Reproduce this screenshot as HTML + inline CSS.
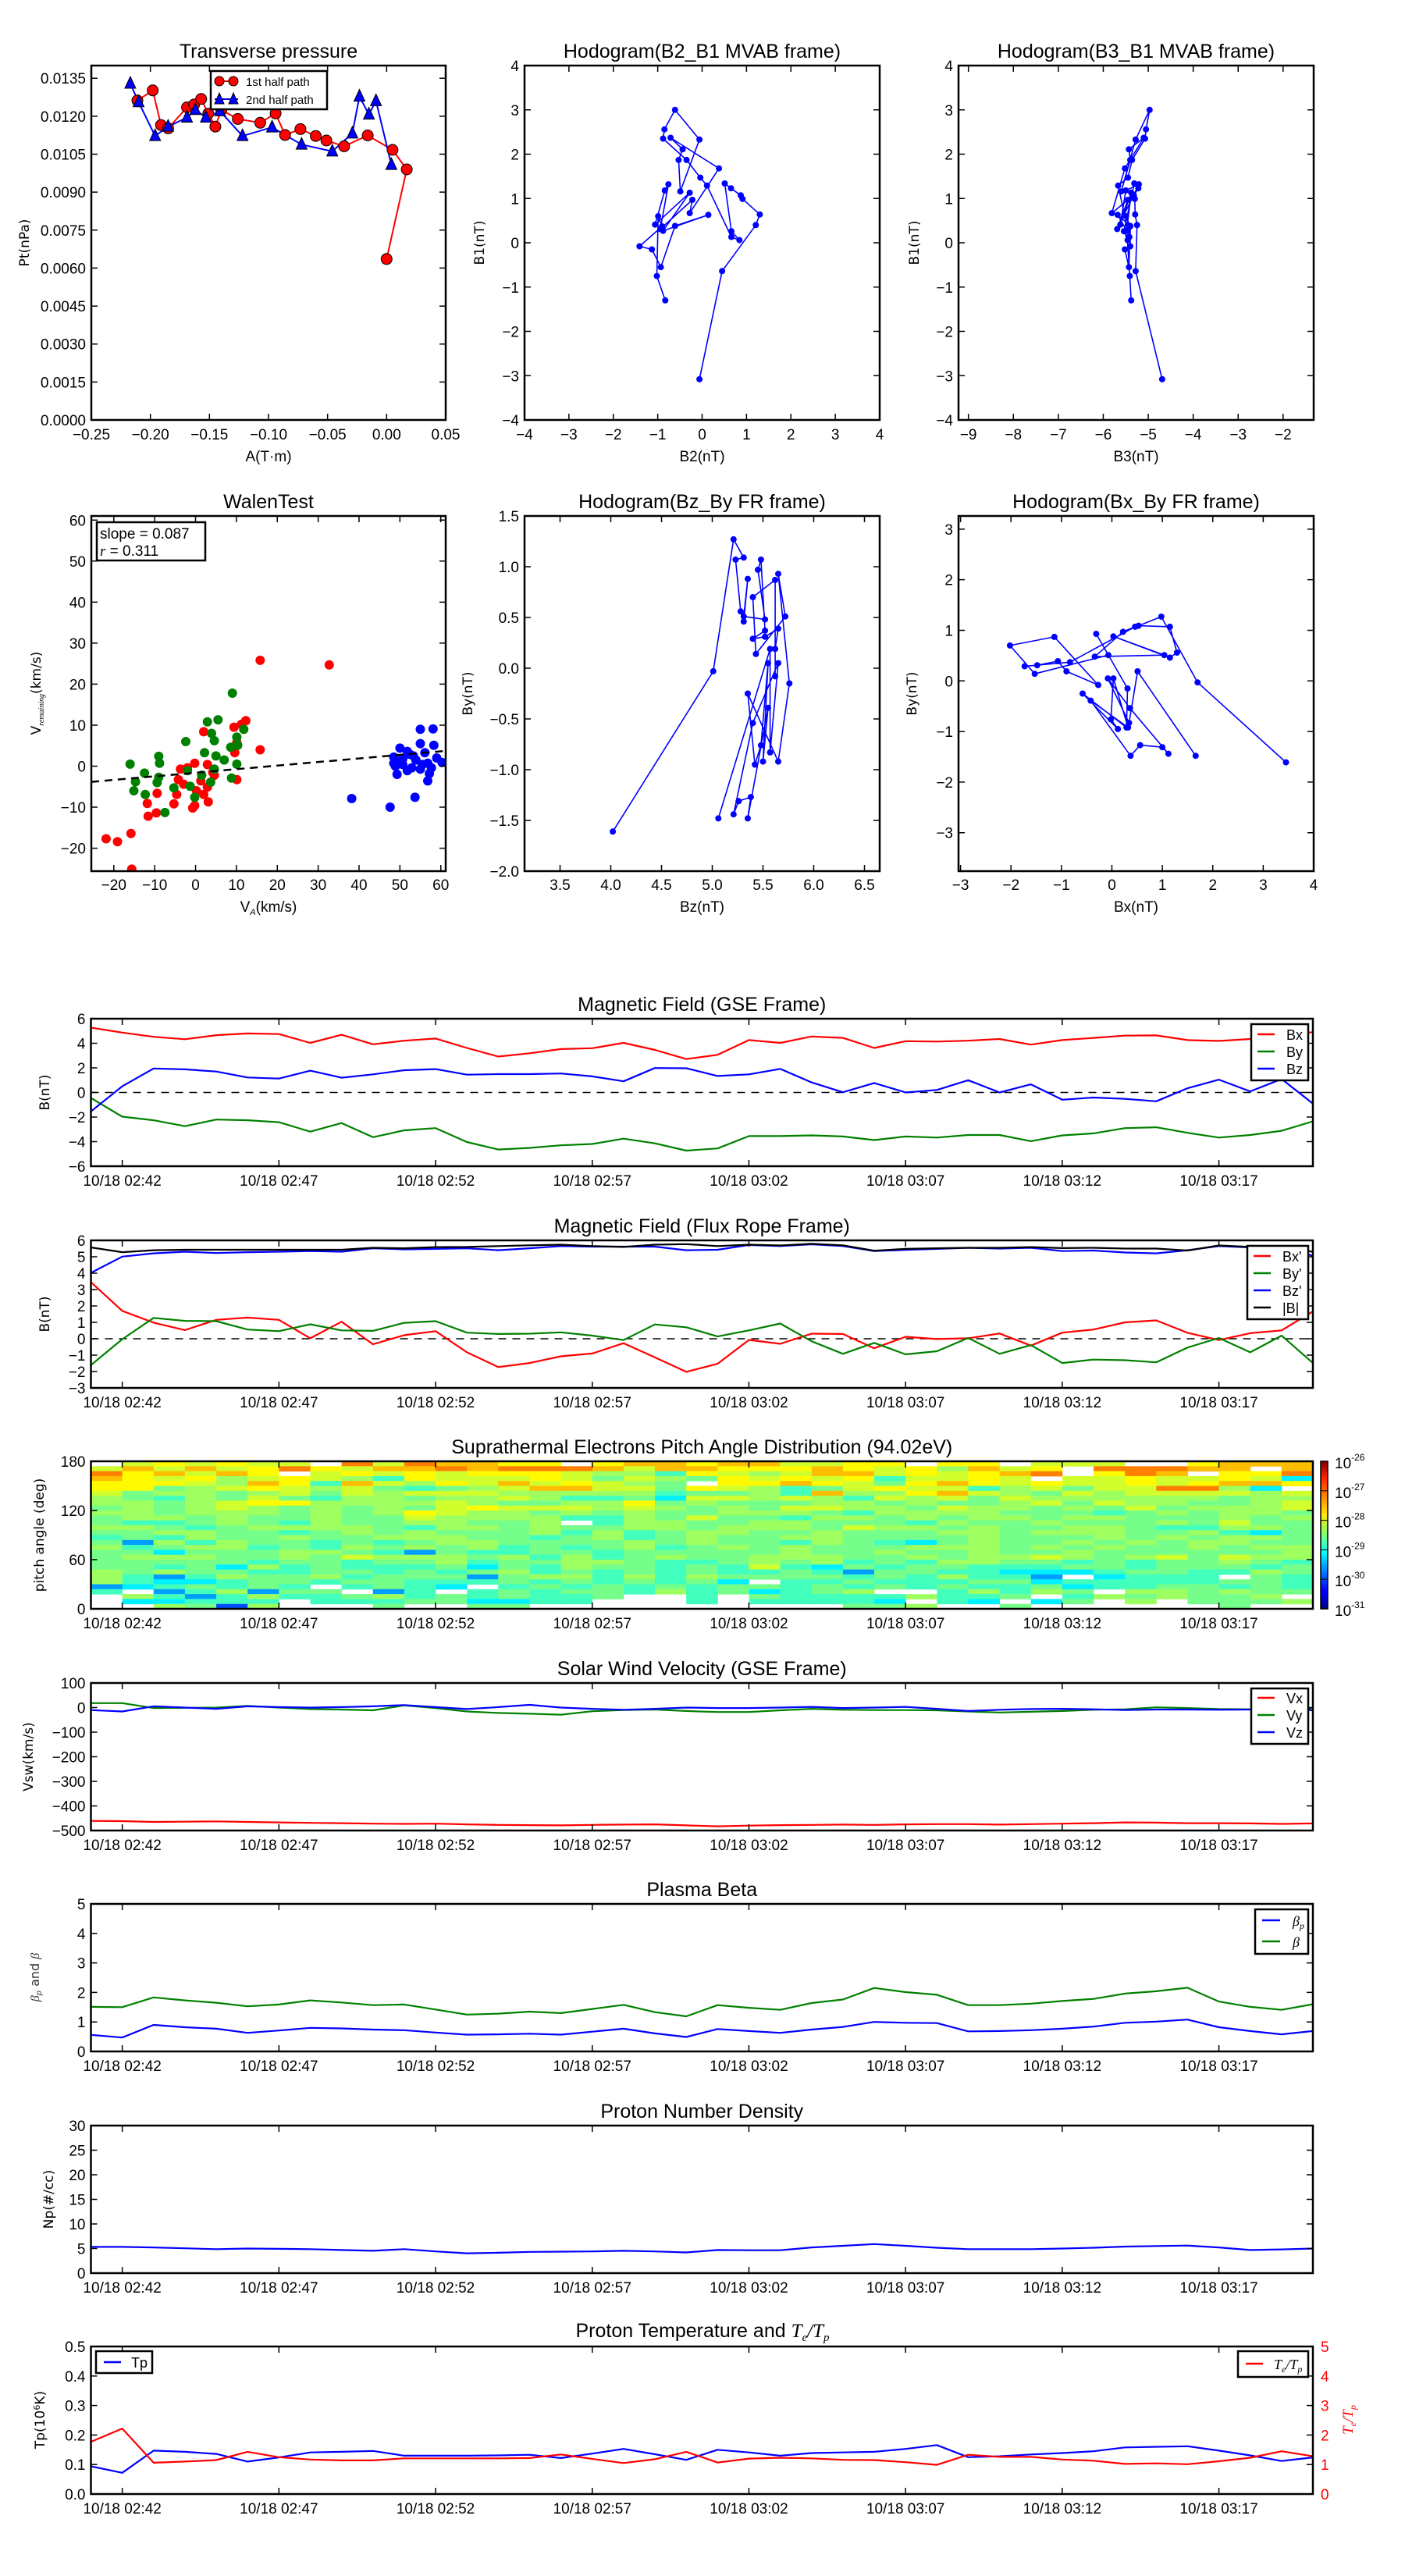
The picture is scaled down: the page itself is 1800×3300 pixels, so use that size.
<!DOCTYPE html>
<html><head><meta charset="utf-8"><title>Flux rope analysis</title>
<style>
html,body{margin:0;padding:0;background:#fff;}
svg{display:block;}
</style></head>
<body>
<svg id="fig" xmlns="http://www.w3.org/2000/svg" width="1800" height="3300" viewBox="0 0 1800 3300">
<rect x="0" y="0" width="1800" height="3300" fill="#fff"/>
<defs>
<linearGradient id="jetgrad" x1="0" y1="1" x2="0" y2="0">
<stop offset="0" stop-color="#00007f"/><stop offset="0.11" stop-color="#0000ff"/><stop offset="0.125" stop-color="#0000ff"/>
<stop offset="0.34" stop-color="#00d4ff"/><stop offset="0.375" stop-color="#00ffff"/><stop offset="0.5" stop-color="#7dff7a"/>
<stop offset="0.64" stop-color="#ffe600"/><stop offset="0.75" stop-color="#ff9100"/><stop offset="0.89" stop-color="#ff1e00"/>
<stop offset="1" stop-color="#7f0000"/></linearGradient>
</defs>
</svg>
<script>
// ---------------- DATA ----------------
const tpRedA=[-0.211,-0.198,-0.191,-0.185,-0.169,-0.163,-0.157,-0.151,-0.145,-0.140,-0.126,-0.107,-0.094,-0.086,-0.073,-0.060,-0.051,-0.036,-0.016,0.005,0.017,0.000];
const tpRedP=[0.01262,0.01302,0.01165,0.01152,0.01235,0.01246,0.01268,0.01210,0.01159,0.01225,0.01189,0.01174,0.01211,0.01126,0.01149,0.01122,0.01104,0.01081,0.01124,0.01067,0.00990,0.00636];
const tpBlueA=[-0.217,-0.210,-0.196,-0.185,-0.169,-0.162,-0.153,-0.141,-0.122,-0.097,-0.072,-0.046,-0.029,-0.023,-0.015,-0.009,0.004];
const tpBlueP=[0.01329,0.01256,0.01122,0.01159,0.01195,0.01225,0.01195,0.01220,0.01122,0.01156,0.01088,0.01061,0.01132,0.01278,0.01207,0.01260,0.01008];
const mvB2=[-0.06,0.45,1.21,1.30,0.91,0.87,0.65,0.51,0.66,0.84,0.66,0.11,-0.04,-0.35,-0.88,-0.85,-0.61,-0.06,-0.49,-0.53,-0.44,-0.71,0.38,-0.28,-0.22,-0.94,-0.76,-0.84,-1.06,-0.28,-0.88,0.14,-0.61,-0.93,-1.13,-1.41,-0.90,-0.99,-1.02,-0.83];
const mvB1=[-3.08,-0.64,0.40,0.64,0.99,1.07,1.23,1.34,0.26,0.06,0.13,1.29,1.47,1.87,2.35,2.56,3.00,2.33,1.16,1.87,2.11,2.37,1.68,0.67,0.97,0.31,1.32,1.18,0.41,1.13,0.27,0.63,0.38,-0.55,-0.15,-0.08,0.37,0.60,-0.75,-1.30];
const mvB3=[-4.69,-5.28,-5.25,-5.29,-5.30,-5.32,-5.22,-5.31,-5.54,-5.46,-5.42,-5.67,-5.45,-5.36,-5.07,-5.05,-4.97,-5.28,-5.60,-5.40,-5.43,-5.10,-5.52,-5.81,-5.45,-5.69,-5.21,-5.50,-5.62,-5.38,-5.48,-5.68,-5.40,-5.43,-5.52,-5.40,-5.40,-5.50,-5.41,-5.38];
const walRedX=[15.8,32.7,12.3,9.4,2.0,11.2,-0.2,-2.0,10.1,2.9,4.6,4.2,-3.7,1.3,-2.9,2.9,2.0,0.2,-4.6,-5.3,-0.7,-0.2,3.1,-9.4,-11.8,-9.6,-11.6,-15.8,-19.1,-21.9,-15.6,10.1,15.8,9.6,-4.2];
const walRedY=[25.8,24.7,11.1,9.5,8.4,10.2,0.7,-0.4,5.8,0.4,-2.2,-1.5,-0.7,-3.6,-4.4,-5.1,-6.9,-6.0,-6.9,-9.2,-10.2,-9.6,-8.7,-6.6,-9.1,-11.4,-12.2,-16.4,-18.4,-17.7,-25.1,-3.3,4.0,3.3,-3.3];
const walGreenX=[9.0,5.5,2.9,3.9,4.6,-2.4,11.8,10.1,10.3,8.6,2.2,5.0,7.0,10.1,-9.0,-8.8,-16.0,-12.5,-14.7,-9.0,-9.4,-15.1,-12.3,-5.3,-1.3,-0.2,-7.5,3.7,-2.0,1.5,8.8,4.6];
const walGreenY=[17.8,11.3,10.8,8.0,6.2,6.0,9.0,7.1,5.1,4.6,3.3,2.5,1.5,0.5,2.4,0.7,0.5,-1.7,-3.8,-2.7,-4.0,-6.0,-6.9,-5.3,-4.9,-7.6,-11.3,-3.9,-1.1,-2.2,-2.9,-0.7];
const walBlueX=[55.0,58.1,50.0,55.0,58.3,51.8,53.3,48.5,49.6,50.7,53.9,55.5,56.8,59.0,48.9,51.8,55.0,57.7,49.3,52.9,57.2,56.8,60.3,38.2,47.6,53.7,52.4,56.1,48.5,50.7];
const walBlueY=[9.0,9.1,4.4,5.5,5.1,3.6,2.5,2.2,1.1,0.4,1.5,0.4,0.7,2.0,0.0,-1.1,-0.7,-0.4,-2.0,-0.4,-1.8,-3.6,0.9,-7.9,-10.0,-7.6,2.9,3.3,0.7,1.8];
const walSlope=[0.087];
const walIntercept=[-1.6];
const tickMinutes=[1,6,11,16,21,26,31,36];
const tickLabels=["10/18 02:42","10/18 02:47","10/18 02:52","10/18 02:57","10/18 03:02","10/18 03:07","10/18 03:12","10/18 03:17"];
const bx=[5.27,4.87,4.53,4.33,4.66,4.80,4.75,4.03,4.69,3.92,4.21,4.39,3.62,2.92,3.19,3.53,3.60,4.03,3.46,2.72,3.06,4.26,4.03,4.55,4.44,3.62,4.17,4.14,4.21,4.35,3.89,4.26,4.44,4.62,4.64,4.26,4.19,4.35,4.57,4.91];
const by=[-0.45,-1.97,-2.26,-2.74,-2.20,-2.26,-2.42,-3.19,-2.49,-3.64,-3.08,-2.90,-4.03,-4.64,-4.51,-4.30,-4.19,-3.76,-4.14,-4.73,-4.55,-3.55,-3.55,-3.49,-3.58,-3.87,-3.58,-3.67,-3.46,-3.46,-3.96,-3.49,-3.33,-2.90,-2.83,-3.28,-3.67,-3.46,-3.12,-2.35];
const bz=[-1.54,0.50,1.95,1.88,1.70,1.22,1.13,1.77,1.20,1.47,1.81,1.90,1.45,1.49,1.49,1.54,1.31,0.91,1.99,1.97,1.34,1.47,1.92,0.82,0.02,0.77,0.00,0.20,1.00,0.00,0.66,-0.59,-0.41,-0.52,-0.72,0.34,1.04,0.09,1.09,-0.90];
const bxp=[3.45,1.70,0.98,0.53,1.15,1.29,1.15,0.03,1.04,-0.34,0.22,0.46,-0.83,-1.73,-1.48,-1.07,-0.90,-0.27,-1.14,-2.02,-1.53,-0.07,-0.31,0.31,0.29,-0.58,0.12,-0.02,0.03,0.32,-0.42,0.37,0.56,1.00,1.12,0.36,-0.08,0.34,0.51,1.66];
const byp=[-1.61,-0.03,1.27,1.09,1.07,0.56,0.46,0.88,0.51,0.48,0.97,1.07,0.37,0.29,0.31,0.39,0.19,-0.08,0.87,0.70,0.14,0.51,0.93,-0.15,-0.92,-0.25,-0.95,-0.76,0.05,-0.92,-0.39,-1.48,-1.27,-1.31,-1.44,-0.54,0.05,-0.83,0.19,-1.48];
const bzp=[4.02,5.01,5.21,5.31,5.23,5.28,5.31,5.35,5.31,5.52,5.45,5.48,5.52,5.40,5.52,5.65,5.62,5.62,5.62,5.40,5.43,5.72,5.65,5.76,5.65,5.35,5.42,5.48,5.55,5.50,5.55,5.35,5.38,5.26,5.21,5.40,5.65,5.57,5.57,5.06];
const btot=[5.57,5.28,5.40,5.43,5.43,5.43,5.43,5.43,5.43,5.55,5.52,5.59,5.60,5.65,5.70,5.74,5.65,5.60,5.74,5.77,5.65,5.74,5.69,5.79,5.70,5.37,5.48,5.52,5.55,5.55,5.59,5.53,5.55,5.50,5.50,5.38,5.69,5.60,5.64,5.30];
const padLevels={a:-27.25,b:-27.55,c:-27.85,d:-28.1,e:-28.35,f:-28.55,g:-28.8,h:-29.2,i:-29.6,j:-30.0};
const padRows=[
".dcdcdd.adabbcc.cbbcbbddcc.cc.ddd..cbbb",
"dbdbdcacdbbabaaabdbbcccbcdcebdc.aaabb.bd",
"acbdbc.dcdcdcccdeegcdedbbdcdcba.cab.ccab",
"bcdcedcdegcdddcdfdefcdcdcgddcd.ddcddcdhe",
"cccdebcgbdecdbdcdef.ccbcdfcbcdcddcdcbbcd",
"ccfedcdedfgfedbbddfcdegfdcddgedfddaaeh.d",
"dfeefedfdedddeeeeegffegbeecbdefdeddddedf",
"efgefdfgeefeedeggfhddedegdedfdeeeeeefeee",
"eefedcceeeedeffeecfefffeefeffedfdeeffedf",
"fefedefefefdcdddedefefddeefdeefefdfeeedef",
"eefeeefefecdeefefeffeeefgeeeefffgfefeefef",
"feefeffeffdeeeeggefdffgeefefeefeefffefee",
"fggfefgeffeeffe.geeffeefffgeffefffefdffe",
"eefgfeeeefgeefeffeefeeefdeefeffeefggeeff",
"ffeeffgfefefffegegfeeffefffeefeeeffeghfe",
"gfgeffeffeeeffgfegfeffeeffffefffefefeeff",
"fiegeffgfgfeeffffefeffgefghfeffefefeeffg",
"egfeegfgefefegfgfegfefefffeeefefeffefeeff",
"ffhfffeefgifggffgfffffeffeffeffeffffffefg",
"feeeffefdeeefegegfeffeeeffefeedefedfdeeef",
"fffffgffgffegffeefggfefegfgeeffgfgffefgf",
"ffgfhegfgggfhfgeffgfgdghfgffgggffgfffgff",
"efeffggffgfgfegfgfgfggfgiffgghhhgffggeff",
"egigeffegfffifeegegeffffgfgeggi.hggg.fgf",
"eghhgffgffgggfgfgfgfh.ggfgggffhgggggffgg",
"ihgfgfg.gfgh.gfgfgfgffgfgfgfggfhggffgfgf",
"g.igeiff.ig.gfgffgegfhgfe..gegef.eefeffe",
".egigeggfegfgfggf..g.fggggeggf.gefeffe.g",
".hhggg.gggffhhgg...g.ggggh.gh.hf.e.fffe.",
"..efje...f..ff..........ffe..f......f..."];
const cbTickExp=[-26,-27,-28,-29,-30,-31];
const vx=[-461,-462,-465,-464,-463,-465,-467,-469,-470,-472,-473,-472,-475,-477,-478,-479,-477,-476,-475,-479,-483,-480,-478,-477,-476,-477,-475,-474,-474,-476,-474,-472,-470,-467,-468,-470,-470,-471,-473,-471];
const vy=[18,18,-2,-1,0,7,0,-6,-8,-11,9,-2,-16,-22,-25,-29,-15,-10,-8,-14,-18,-18,-11,-5,-9,-10,-10,-11,-16,-20,-17,-14,-9,-7,1,-2,-6,-7,-10,-2];
const vz=[-10,-16,5,0,-5,5,2,0,2,5,10,2,-6,2,11,0,-5,-9,-5,0,-2,-2,0,3,-2,0,3,-5,-14,-9,-6,-5,-7,-10,-8,-8,-9,-8,-2,-11];
const betaP=[0.56,0.47,0.90,0.82,0.77,0.63,0.71,0.80,0.78,0.74,0.72,0.64,0.57,0.58,0.60,0.57,0.67,0.77,0.61,0.49,0.76,0.69,0.63,0.74,0.83,1.00,0.97,0.96,0.68,0.69,0.72,0.77,0.84,0.97,1.01,1.08,0.82,0.69,0.58,0.69];
const betaT=[1.51,1.50,1.83,1.73,1.65,1.53,1.59,1.73,1.66,1.57,1.59,1.42,1.25,1.28,1.35,1.30,1.44,1.58,1.33,1.19,1.57,1.48,1.41,1.64,1.76,2.15,2.01,1.92,1.57,1.57,1.62,1.71,1.78,1.96,2.04,2.16,1.69,1.51,1.41,1.60];
const np=[5.33,5.33,5.22,5.05,4.88,5.00,4.93,4.88,4.70,4.54,4.88,4.42,4.03,4.14,4.31,4.37,4.42,4.54,4.42,4.20,4.70,4.65,4.65,5.22,5.56,5.90,5.56,5.16,4.88,4.88,4.88,5.00,5.16,5.39,5.50,5.60,5.22,4.70,4.82,5.00];
const tp=[0.094,0.072,0.147,0.143,0.136,0.110,0.124,0.141,0.143,0.146,0.130,0.130,0.130,0.131,0.133,0.122,0.137,0.153,0.135,0.116,0.150,0.141,0.130,0.139,0.141,0.143,0.153,0.166,0.125,0.128,0.134,0.139,0.145,0.158,0.160,0.162,0.147,0.131,0.112,0.124];
const teTp=[1.77,2.22,1.06,1.10,1.15,1.43,1.25,1.17,1.14,1.14,1.21,1.21,1.21,1.21,1.22,1.34,1.19,1.05,1.18,1.43,1.07,1.20,1.23,1.21,1.16,1.15,1.08,0.99,1.33,1.26,1.26,1.17,1.13,1.02,1.04,1.01,1.11,1.23,1.45,1.28];

// ---------------- DRAWING ----------------
const NS='http://www.w3.org/2000/svg';
const svg=document.getElementById('fig');
const NARROW='"Liberation Sans Narrow","Liberation Sans",sans-serif';
const WIDE='"DejaVu Sans","Liberation Sans",sans-serif';
function mk(tag,attrs,parent){const e=document.createElementNS(NS,tag);for(const k in attrs)e.setAttribute(k,attrs[k]);(parent||svg).appendChild(e);return e;}
function lin(d0,d1,r0,r1){return v=>r0+(v-d0)*(r1-r0)/(d1-d0);}
function fmt(v,dec){const s=Math.abs(v).toFixed(dec);return (v<0?'\u2212':'')+s;}
function txt(parent,x,y,s,attrs,name){
  const t=mk('text',Object.assign({x:x,y:y},attrs),parent);
  t.textContent=s;
  
  
  return t;
}
function group(name){
  const g=mk('g',{});
  
  
  return g;
}
function axes(c){
  const g=c.g;
  (c.xt||[]).forEach((v,i)=>{
    const x=c.sx(v);
    const tk=mk('path',{d:`M${x},${c.B}V${c.B-8}M${x},${c.T}V${c.T+8}`,stroke:'#000','stroke-width':1.5,fill:'none'},g);
    
    
    txt(g,x,c.xlY||c.B+25,c.xl[i],{'font-family':NARROW,'font-size':19,'text-anchor':'middle'},'x-tick-label');
  });
  (c.yt||[]).forEach((v,i)=>{
    const y=c.sy(v);
    const d=c.noRightTicks?`M${c.L},${y}H${c.L+8}`:`M${c.L},${y}H${c.L+8}M${c.R},${y}H${c.R-8}`;
    const tk=mk('path',{d:d,stroke:'#000','stroke-width':1.5,fill:'none'},g);
    
    
    txt(g,c.L-7,y+7,c.yl[i],{'font-family':NARROW,'font-size':19,'text-anchor':'end'},'y-tick-label');
  });
  if(c.title){
    txt(g,(c.L+c.R)/2,c.titleY,c.title,{'font-family':NARROW,'font-size':25,'text-anchor':'middle'},'chart-title');
  }
  if(c.xlabel) txt(g,(c.L+c.R)/2,c.xlabelY,c.xlabel,{'font-family':NARROW,'font-size':19,'text-anchor':'middle'},'x-axis-title');
  if(c.ylabel){
    const cy=(c.T+c.B)/2;
    txt(g,c.ylabelX,cy,c.ylabel,{'font-family':WIDE,'font-size':c.ylSize||17,'text-anchor':'middle',transform:`rotate(-90 ${c.ylabelX} ${cy})`},'y-axis-title');
  }
}
function frame(g,L,T,R,B){
  const r=mk('rect',{x:L,y:T,width:R-L,height:B-T,fill:'none',stroke:'#000','stroke-width':2.5},g);
  
  
}
function polyline(g,xs,ys,sx,sy,color,w,name,dash){
  const d=xs.map((x,i)=>(i?'L':'M')+sx(x).toFixed(1)+','+sy(ys[i]).toFixed(1)).join('');
  const p=mk('path',{d:d,fill:'none',stroke:color,'stroke-width':w,'stroke-linejoin':'round'},g);
  if(dash)p.setAttribute('stroke-dasharray',dash);
  
  
  return p;
}
function dots(g,xs,ys,sx,sy,color,r,name,stroke){
  xs.forEach((x,i)=>{
    const c=mk('ellipse',{cx:sx(x).toFixed(1),cy:sy(ys[i]).toFixed(1),rx:r,ry:r,fill:color},g);
    if(stroke){c.setAttribute('stroke',stroke);c.setAttribute('stroke-width',1);}
    
    
  });
}
function range(a,b,s){const o=[];for(let v=a;v<=b+1e-9;v+=s)o.push(+v.toFixed(6));return o;}
function legend(g,x,y,w,h,entries,textX,lineX0,lineX1){
  const box=mk('rect',{x:x,y:y,width:w,height:h,fill:'#fff',stroke:'#000','stroke-width':2.5},g);
  
  
  entries.forEach(e=>{
    const l=mk('path',{d:`M${lineX0},${e.y}H${lineX1}`,stroke:e.color,'stroke-width':2.5},g);
    
    
    const t=txt(g,textX,e.y+7,'',{'font-family':e.serif?'"Liberation Serif",serif':NARROW,'font-size':18,'font-style':e.serif?'italic':'normal'},'legend-entry');
    t.textContent=e.label;
    if(e.sub){
      const s=mk('tspan',{'font-size':12,dy:4},t);
      s.textContent=e.sub;
      
      
    }
    if(e.rest){
      const r=mk('tspan',{dy:-4},t);
      r.textContent=e.rest;
      
      
      const s2=mk('tspan',{'font-size':12,dy:4},t);
      s2.textContent=e.sub2;
      
      
    }
  });
}

// ======= Row 1 =======
(function(){
  const g=group('transverse-pressure-chart');
  const L=117,T=84,R=571,B=538;
  const sx=lin(-0.25,0.05,L,R), sy=lin(0,0.014,B,T);
  const xt=range(-0.25,0.05,0.05), yt=range(0,0.0135,0.0015);
  polyline(g,tpRedA,tpRedP,sx,sy,'#ff0000',2,'first-half-line');
  polyline(g,tpBlueA,tpBlueP,sx,sy,'#0000ff',2,'second-half-line');
  dots(g,tpRedA,tpRedP,sx,sy,'#ff0000',7,'first-half-point','#000');
  tpBlueA.forEach((a,i)=>{
    const x=sx(a),y=sy(tpBlueP[i]);
    const t=mk('path',{d:`M${x},${y-9}L${x+7},${y+6}L${x-7},${y+6}Z`,fill:'#0000ff',stroke:'#000','stroke-width':1},g);
    
    
  });
  frame(g,L,T,R,B);
  axes({g,L,T,R,B,sx,sy,xt,xl:xt.map(v=>fmt(v,2)),yt,yl:yt.map(v=>v.toFixed(4)),title:'Transverse pressure',titleY:74,xlabel:'A(T\u00b7m)',xlabelY:591,ylabel:'Pt(nPa)',ylabelX:37,xlY:563});
  const lg=mk('rect',{x:270,y:91,width:149,height:49,fill:'#fff',stroke:'#000','stroke-width':2.5},g);
  
  
  const l1=mk('path',{d:'M275,104H305',stroke:'#ff0000','stroke-width':2},g);
  
  
  dots(g,[0],[0],v=>281,v=>104,'#ff0000',6,'legend-marker','#000');
  dots(g,[0],[0],v=>299,v=>104,'#ff0000',6,'legend-marker','#000');
  txt(g,315,110,'1st half path',{'font-family':NARROW,'font-size':15},'legend-entry');
  const l2=mk('path',{d:'M275,127H305',stroke:'#0000ff','stroke-width':2},g);
  
  
  [281,299].forEach(x=>{
    const t=mk('path',{d:`M${x},119L${x+6},133L${x-6},133Z`,fill:'#0000ff',stroke:'#000','stroke-width':1},g);
    
    
  });
  txt(g,315,133,'2nd half path',{'font-family':NARROW,'font-size':15},'legend-entry');
})();

function hodo(name,L,T,R,B,xr,yr,xs,ys,xt,xdec,yt,ydec,title,titleY,xlabel,xlabelY,ylabel,ylabelX,xlY){
  const g=group(name);
  const sx=lin(xr[0],xr[1],L,R), sy=lin(yr[0],yr[1],B,T);
  polyline(g,xs,ys,sx,sy,'#0000ff',1.6,'hodogram-path');
  dots(g,xs,ys,sx,sy,'#0000ff',4,'hodogram-point');
  frame(g,L,T,R,B);
  axes({g,L,T,R,B,sx,sy,xt,xl:xt.map(v=>fmt(v,xdec)),yt,yl:yt.map(v=>fmt(v,ydec)),title,titleY,xlabel,xlabelY,ylabel,ylabelX,xlY});
  return g;
}
hodo('hodogram-b2-b1',672,84,1127,538,[-4,4],[-4,4],mvB2,mvB1,range(-4,4,1),0,range(-4,4,1),0,'Hodogram(B2_B1 MVAB frame)',74,'B2(nT)',591,'B1(nT)',620,563);
hodo('hodogram-b3-b1',1228,84,1683,538,[-9.22,-1.32],[-4,4],mvB3,mvB1,range(-9,-2,1),0,range(-4,4,1),0,'Hodogram(B3_B1 MVAB frame)',74,'B3(nT)',591,'B1(nT)',1177,563);

// ======= Row 2 =======
(function(){
  const g=group('walen-test-chart');
  const L=117,T=661,R=571,B=1116;
  const sx=lin(-25.5,61.2,L,R), sy=lin(-25.6,61,B,T);
  const clip=mk('clipPath',{id:'walclip'},g);
  const cr=mk('rect',{x:L,y:T,width:R-L,height:B-T},clip);
  
  
  const pg=mk('g',{'clip-path':'url(#walclip)'},g);
  
  
  dots(pg,walRedX,walRedY,sx,sy,'#ff0000',6,'walen-point-red');
  dots(pg,walGreenX,walGreenY,sx,sy,'#008000',6,'walen-point-green');
  dots(pg,walBlueX,walBlueY,sx,sy,'#0000ff',6,'walen-point-blue');
  const fx=[-25.5,61.2];
  polyline(pg,fx,fx.map(x=>walSlope[0]*x+walIntercept[0]),sx,sy,'#000',2.5,'fit-line','10,7');
  frame(g,L,T,R,B);
  const xt=range(-20,60,10), yt=range(-20,60,10);
  axes({g,L,T,R,B,sx,sy,xt,xl:xt.map(v=>fmt(v,0)),yt,yl:yt.map(v=>fmt(v,0)),title:'WalenTest',titleY:651,xlY:1140});
  const xl=txt(g,344,1168,'V',{'font-family':NARROW,'font-size':19,'text-anchor':'middle'},'x-axis-title');
  const s1=mk('tspan',{'font-size':11,dy:4,'font-style':'italic'},xl); s1.textContent='A';
  
  
  const s2=mk('tspan',{dy:-4},xl); s2.textContent='(km/s)';
  
  
  const yl=txt(g,52,888,'V',{'font-family':WIDE,'font-size':17,'text-anchor':'middle',transform:'rotate(-90 52 888)'},'y-axis-title');
  const s3=mk('tspan',{'font-size':10,dy:4,'font-style':'italic','font-family':'"Liberation Serif",serif'},yl); s3.textContent='remaining';
  
  
  const s4=mk('tspan',{dy:-4},yl); s4.textContent='(km/s)';
  
  
  const tb=mk('rect',{x:124,y:669,width:139,height:49,fill:'#fff',stroke:'#000','stroke-width':2.5},g);
  
  
  txt(g,128,690,'slope = '+walSlope[0].toFixed(3),{'font-family':NARROW,'font-size':19},'slope-text');
  const rt=txt(g,128,712,'',{'font-family':NARROW,'font-size':19},'correlation-text');
  const ri=mk('tspan',{'font-style':'italic','font-family':'"Liberation Serif",serif'},rt); ri.textContent='r';
  
  
  const rv=mk('tspan',{},rt); rv.textContent=' = 0.311';
  
  
})();
hodo('hodogram-bz-by',672,661,1127,1116,[3.15,6.65],[-2.0,1.5],bzp,byp,range(3.5,6.5,0.5),1,range(-2,1.5,0.5),1,'Hodogram(Bz_By FR frame)',651,'Bz(nT)',1168,'By(nT)',605,1140);
hodo('hodogram-bx-by',1228,661,1683,1116,[-3.04,4.0],[-3.76,3.26],bxp,byp,range(-3,4,1),0,range(-3,3,1),0,'Hodogram(Bx_By FR frame)',651,'Bx(nT)',1168,'By(nT)',1174,1140);

// ======= Time series =======
const TL=116.5,TR=1682;
const tsx=lin(0,39,TL,TR);
const mins=bx.map((v,i)=>i);
function tsPanel(name,T,B,ymin,ymax,yt,ydec,title,ylabel,ylabelX){
  const g=group(name);
  const sy=lin(ymin,ymax,B,T);
  return {g,sy,T,B,finish:(extra)=>{
    frame(g,TL,T,TR,B);
    axes(Object.assign({g,L:TL,T,R:TR,B,sx:tsx,sy,xt:tickMinutes,xl:tickLabels,yt,yl:yt.map(v=>fmt(v,ydec)),title,titleY:T-10,ylabel,ylabelX},extra||{}));
  }};
}
(function(){
  const p=tsPanel('magnetic-field-gse-chart',1305,1494,-6,6,range(-6,6,2),0,'Magnetic Field (GSE Frame)','B(nT)',63);
  polyline(p.g,[0,39],[0,0],tsx,p.sy,'#000',1.5,'zero-line','10,8');
  polyline(p.g,mins,bx,tsx,p.sy,'#ff0000',2.2,'series-bx');
  polyline(p.g,mins,by,tsx,p.sy,'#008000',2.2,'series-by');
  polyline(p.g,mins,bz,tsx,p.sy,'#0000ff',2.2,'series-bz');
  p.finish();
  legend(p.g,1603,1312,73,72,[{label:'Bx',color:'#ff0000',y:1325},{label:'By',color:'#008000',y:1347},{label:'Bz',color:'#0000ff',y:1369}],1648,1611,1633);
})();
(function(){
  const p=tsPanel('magnetic-field-fr-chart',1589,1778,-3,6,range(-3,6,1),0,'Magnetic Field (Flux Rope Frame)','B(nT)',63);
  polyline(p.g,[0,39],[0,0],tsx,p.sy,'#000',1.5,'zero-line','10,8');
  polyline(p.g,mins,bxp,tsx,p.sy,'#ff0000',2.2,'series-bx-prime');
  polyline(p.g,mins,byp,tsx,p.sy,'#008000',2.2,'series-by-prime');
  polyline(p.g,mins,bzp,tsx,p.sy,'#0000ff',2.2,'series-bz-prime');
  polyline(p.g,mins,btot,tsx,p.sy,'#000',2.2,'series-b-total');
  p.finish();
  legend(p.g,1598,1596,78,94,[{label:"Bx'",color:'#ff0000',y:1609},{label:"By'",color:'#008000',y:1631},{label:"Bz'",color:'#0000ff',y:1653},{label:'|B|',color:'#000',y:1675}],1643,1606,1628);
})();
function jet(t){t=Math.max(0,Math.min(1,t));const c=x=>Math.round(255*Math.max(0,Math.min(1,x)));return `rgb(${c(1.5-Math.abs(4*t-3))},${c(1.5-Math.abs(4*t-2))},${c(1.5-Math.abs(4*t-1))})`;}
(function(){
  const p=tsPanel('pitch-angle-chart',1872,2061,0,180,[0,60,120,180],0,'Suprathermal Electrons Pitch Angle Distribution (94.02eV)','pitch angle (deg)',56);
  const nrows=padRows.length, dAng=180/nrows;
  padRows.forEach((row,r)=>{
    for(let c=0;c<39;c++){
      const ch=row[c];
      if(!ch||ch==='.'||padLevels[ch]===undefined)continue;
      const v=padLevels[ch];
      const x0=tsx(c),x1=tsx(c+1);
      const a1=180-r*dAng,a0=180-(r+1)*dAng;
      const y0=p.sy(a1),y1=p.sy(a0);
      const cell=mk('rect',{x:x0.toFixed(1),y:y0.toFixed(1),width:(x1-x0+0.5).toFixed(1),height:(y1-y0+0.5).toFixed(1),fill:jet((v+31)/5)},p.g);
      
      
    }
  });
  p.finish();
  const cb=mk('rect',{x:1692,y:1872,width:9,height:189,fill:'url(#jetgrad)',stroke:'#000','stroke-width':1.5},p.g);
  
  
  const scb=lin(-31,-26,2061,1872);
  cbTickExp.forEach(e=>{
    const y=scb(e);
    const tk=mk('path',{d:`M1692,${y}H1701`,stroke:'#000','stroke-width':1},p.g);
    
    
    const t=txt(p.g,1710,y+9,'10',{'font-family':NARROW,'font-size':19},'colorbar-tick-label');
    const s=mk('tspan',{'font-size':12,dy:-10},t); s.textContent=fmt(e,0).replace('\u2212','-');
    
    
  });
})();
(function(){
  const p=tsPanel('solar-wind-velocity-chart',2156,2345,-500,100,range(-500,100,100),0,'Solar Wind Velocity (GSE Frame)','Vsw(km/s)',42);
  polyline(p.g,mins,vx,tsx,p.sy,'#ff0000',2.2,'series-vx');
  polyline(p.g,mins,vy,tsx,p.sy,'#008000',2.2,'series-vy');
  polyline(p.g,mins,vz,tsx,p.sy,'#0000ff',2.2,'series-vz');
  p.finish();
  legend(p.g,1603,2163,73,71,[{label:'Vx',color:'#ff0000',y:2175},{label:'Vy',color:'#008000',y:2197},{label:'Vz',color:'#0000ff',y:2219}],1648,1611,1633);
})();
(function(){
  const p=tsPanel('plasma-beta-chart',2439,2628,0,5,range(0,5,1),0,'Plasma Beta',null,0);
  polyline(p.g,mins,betaP,tsx,p.sy,'#0000ff',2.2,'series-beta-p');
  polyline(p.g,mins,betaT,tsx,p.sy,'#008000',2.2,'series-beta');
  p.finish();
  const yl=txt(p.g,50,2533,'',{'font-family':WIDE,'font-size':16,'text-anchor':'middle',transform:'rotate(-90 50 2533)',fill:'#333'},'y-axis-title');
  const a=mk('tspan',{'font-family':'"Liberation Serif",serif','font-style':'italic'},yl); a.textContent='\u03b2';
   
  const b=mk('tspan',{'font-size':10,dy:3,'font-style':'italic'},yl); b.textContent='p';
   
  const c=mk('tspan',{dy:-3},yl); c.textContent=' and ';
   
  const d=mk('tspan',{'font-family':'"Liberation Serif",serif','font-style':'italic'},yl); d.textContent='\u03b2';
   
  legend(p.g,1608,2446,68,57,[{label:'\u03b2',sub:'p',serif:true,color:'#0000ff',y:2460},{label:'\u03b2',serif:true,color:'#008000',y:2487}],1656,1617,1640);
})();
(function(){
  const p=tsPanel('proton-density-chart',2723,2912,0,30,range(0,30,5),0,'Proton Number Density','Np(#/cc)',68);
  polyline(p.g,mins,np,tsx,p.sy,'#0000ff',2.2,'series-np');
  p.finish();
})();
(function(){
  const T=3006,B=3195;
  const p=tsPanel('proton-temperature-chart',T,B,0,0.5,range(0,0.5,0.1),1,null,null,0);
  const sy2=lin(0,5,B,T);
  polyline(p.g,mins,tp,tsx,p.sy,'#0000ff',2.2,'series-tp');
  polyline(p.g,mins,teTp,tsx,sy2,'#ff0000',2.2,'series-te-tp');
  p.finish({noRightTicks:true});
  range(0,5,1).forEach(v=>{
    const y=sy2(v);
    const tk=mk('path',{d:`M${TR},${y}H${TR-8}`,stroke:'#000','stroke-width':1.5},p.g);
    
    
    txt(p.g,1692,y+7,fmt(v,0),{'font-family':NARROW,'font-size':19,fill:'#ff0000'},'right-y-tick-label');
  });
  const tt=txt(p.g,900,2994,'Proton Temperature and ',{'font-family':NARROW,'font-size':25,'text-anchor':'middle'},'chart-title');
  const m1=mk('tspan',{'font-family':'"Liberation Serif",serif','font-style':'italic'},tt); m1.textContent='T';
   
  const m2=mk('tspan',{'font-family':'"Liberation Serif",serif','font-style':'italic','font-size':15,dy:5},tt); m2.textContent='e';
   
  const m3=mk('tspan',{'font-family':'"Liberation Serif",serif','font-style':'italic',dy:-5},tt); m3.textContent='/T';
   
  const m4=mk('tspan',{'font-family':'"Liberation Serif",serif','font-style':'italic','font-size':15,dy:5},tt); m4.textContent='p';
   
  const yl=txt(p.g,57,3100,'Tp(10',{'font-family':WIDE,'font-size':17,'text-anchor':'middle',transform:'rotate(-90 57 3100)'},'y-axis-title');
  const e1=mk('tspan',{'font-size':11,dy:-6},yl); e1.textContent='6';
   
  const e2=mk('tspan',{dy:6},yl); e2.textContent='K)';
   
  const yr=txt(p.g,1733,3100,'T',{'font-family':'"Liberation Serif",serif','font-style':'italic','font-size':19,'text-anchor':'middle',fill:'#ff0000',transform:'rotate(-90 1733 3100)'},'right-y-axis-title');
  const r1=mk('tspan',{'font-size':12,dy:4},yr); r1.textContent='e';
   
  const r2=mk('tspan',{dy:-4},yr); r2.textContent='/T';
   
  const r3=mk('tspan',{'font-size':12,dy:4},yr); r3.textContent='p';
   
  legend(p.g,123,3012,72,28,[{label:'Tp',color:'#0000ff',y:3026}],168,133,155);
  legend(p.g,1586,3012,90,33,[{label:'T',sub:'e',rest:'/T',sub2:'p',serif:true,color:'#ff0000',y:3028}],1632,1596,1618);
})();
</script>
</body></html>
